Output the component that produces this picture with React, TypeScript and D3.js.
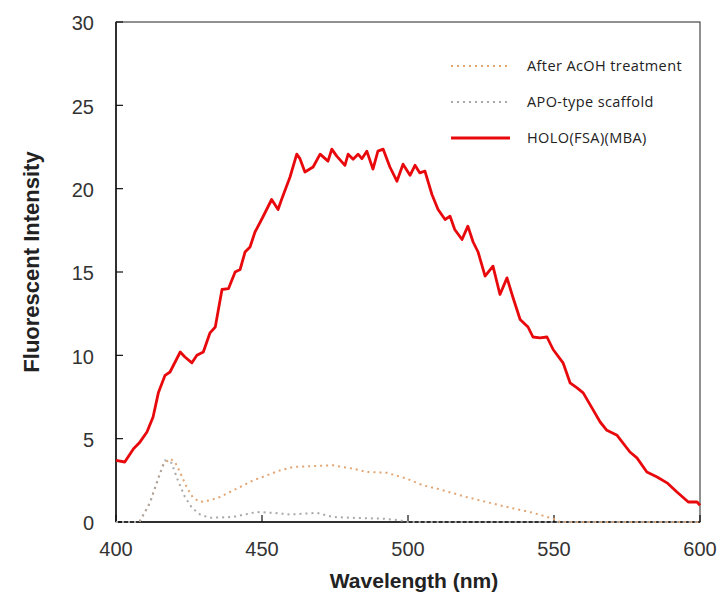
import React, { useEffect, useRef } from "react";
import * as d3 from "d3";

// HOLO(FSA)(MBA) – solid red
const holoWl = [400, 403, 406, 408, 410.6, 412.7, 414.5, 416.8, 418.5, 422, 423.6, 426, 427.7, 429.9, 432.2, 434, 436.3, 438.5, 440.8, 442.5, 444.2, 445.9, 447.6, 450.3, 453.3, 455.5, 456.7, 459.6, 461.9, 463, 464.7, 467.5, 469.9, 472.6, 473.9, 475.6, 478.4, 479.5, 481.2, 482.9, 484.2, 485.9, 488, 489.7, 491.5, 493.8, 496.2, 498.3, 500.7, 502.4, 504, 505.8, 508.2, 510.3, 512.7, 514.4, 516, 518.5, 520.5, 522.3, 524, 526.4, 529.1, 531.5, 533.9, 535.9, 538.4, 541.1, 542.8, 545.2, 547.6, 549.7, 553.1, 555.5, 557.9, 560, 563, 565.8, 568.1, 571.6, 576, 578.4, 581.8, 585.3, 588.7, 592.1, 596, 599, 600];
const holoVal = [3.7, 3.6, 4.4, 4.75, 5.4, 6.3, 7.75, 8.8, 9.0, 10.2, 9.9, 9.55, 10.0, 10.2, 11.35, 11.7, 13.95, 14.0, 15.0, 15.15, 16.2, 16.5, 17.4, 18.3, 19.35, 18.75, 19.35, 20.7, 22.07, 21.8, 21.0, 21.3, 22.07, 21.65, 22.37, 21.95, 21.4, 22.07, 21.77, 22.07, 21.8, 22.25, 21.17, 22.25, 22.37, 21.3, 20.45, 21.47, 20.8, 21.4, 20.95, 21.05, 19.65, 18.75, 18.15, 18.35, 17.55, 16.95, 17.75, 16.8, 16.2, 14.75, 15.35, 13.65, 14.65, 13.5, 12.15, 11.7, 11.1, 11.05, 11.1, 10.35, 9.55, 8.35, 8.05, 7.75, 6.85, 6.0, 5.5, 5.2, 4.2, 3.85, 3.0, 2.7, 2.35, 1.8, 1.2, 1.2, 1.0];

// After AcOH treatment – orange dotted
const acohWl = [400, 408, 411.6, 414, 416, 418.5, 420.2, 422, 424.3, 426.4, 428.8, 432.2, 435.6, 439, 442.5, 447, 451.7, 456.2, 460.6, 467.5, 474.3, 481.2, 485.9, 492.8, 499.6, 505.1, 510, 520, 531.5, 542.8, 549.7, 552, 600];
const acohVal = [0, 0, 1.15, 2.35, 3.4, 3.8, 3.6, 2.95, 2.05, 1.45, 1.2, 1.3, 1.5, 1.8, 2.1, 2.5, 2.8, 3.1, 3.3, 3.35, 3.4, 3.2, 3.0, 2.95, 2.6, 2.2, 2.0, 1.5, 1.0, 0.55, 0.2, 0, 0];

// APO-type scaffold – gray dotted
const apoWl = [400, 408, 411.6, 414, 416.8, 419, 421.2, 423.6, 426, 428.8, 432.2, 440, 448.2, 453.8, 459.6, 468.8, 474.3, 481.2, 491.5, 497.3, 500, 600];
const apoVal = [0, 0, 1.15, 2.4, 3.7, 3.55, 2.5, 1.5, 0.85, 0.45, 0.25, 0.3, 0.6, 0.55, 0.45, 0.55, 0.3, 0.25, 0.2, 0.1, 0, 0];

const xTicks = [400, 450, 500, 550, 600];
const yTicks = [0, 5, 10, 15, 20, 25, 30];
const legendLabels = ["After AcOH treatment", "APO-type scaffold", "HOLO(FSA)(MBA)"];

export default function App() {
  const ref = useRef<SVGSVGElement | null>(null);

  useEffect(() => {
    if (!ref.current) return;
    const svg = d3.select(ref.current);
    svg.selectAll("*").remove();

    const left = 116, right = 700, top = 22, bottom = 522;
    const x = d3.scaleLinear().domain([400, 600]).range([left, right]);
    const y = d3.scaleLinear().domain([0, 30]).range([bottom, top]);

    // frame
    svg.append("rect")
      .attr("x", left).attr("y", top)
      .attr("width", right - left).attr("height", bottom - top)
      .attr("fill", "white").attr("stroke", "#222").attr("stroke-width", 1);

    const line = d3.line<[number, number]>()
      .x(d => x(d[0])).y(d => y(d[1]))
      .curve(d3.curveLinear);

    const series = [
      { wl: acohWl, val: acohVal, color: "#e3a572", width: 2, dash: "2,4" },
      { wl: apoWl, val: apoVal, color: "#a8a8a8", width: 2, dash: "2,4" },
      { wl: holoWl, val: holoVal, color: "#e8090c", width: 2.8, dash: null as string | null },
    ];

    // axes (inward ticks)
    const axisLine = "#111";
    svg.append("line")
      .attr("x1", left).attr("x2", right).attr("y1", bottom).attr("y2", bottom)
      .attr("stroke", axisLine).attr("stroke-width", 1.5);
    svg.append("line")
      .attr("x1", left).attr("x2", left).attr("y1", top).attr("y2", bottom)
      .attr("stroke", axisLine).attr("stroke-width", 1.5);

    svg.selectAll(".yt").data(yTicks).enter().append("line")
      .attr("x1", left).attr("x2", left + 7)
      .attr("y1", d => y(d)).attr("y2", d => y(d))
      .attr("stroke", axisLine).attr("stroke-width", 1.2);
    svg.selectAll(".xt").data(xTicks).enter().append("line")
      .attr("x1", d => x(d)).attr("x2", d => x(d))
      .attr("y1", bottom).attr("y2", bottom - 7)
      .attr("stroke", axisLine).attr("stroke-width", 1.2);

    series.forEach(s => {
      const pts: [number, number][] = s.wl.map((w, i) => [w, s.val[i]]);
      const p = svg.append("path")
        .attr("d", line(pts) || "")
        .attr("fill", "none")
        .attr("stroke", s.color)
        .attr("stroke-width", s.width)
        .attr("stroke-linejoin", "round");
      if (s.dash) p.attr("stroke-dasharray", s.dash);
    });

    const font = "Liberation Sans, Arial, sans-serif";
    svg.selectAll(".yl").data(yTicks).enter().append("text")
      .attr("x", left - 22).attr("y", d => y(d) + 1)
      .attr("dy", "0.36em").attr("text-anchor", "end")
      .attr("font-family", font).attr("font-size", 20).attr("fill", "#333")
      .text(d => d);
    svg.selectAll(".xl").data(xTicks).enter().append("text")
      .attr("x", d => x(d)).attr("y", bottom + 27)
      .attr("dy", "0.36em").attr("text-anchor", "middle")
      .attr("font-family", font).attr("font-size", 20).attr("fill", "#333")
      .text(d => d);

    svg.append("text")
      .attr("x", 414).attr("y", 580)
      .attr("dy", "0.36em").attr("text-anchor", "middle")
      .attr("font-family", font).attr("font-size", 21).attr("font-weight", "bold").attr("fill", "#222")
      .text("Wavelength (nm)");
    svg.append("text")
      .attr("transform", `translate(31, 262) rotate(-90)`)
      .attr("dy", "0.36em").attr("text-anchor", "middle")
      .attr("font-family", font).attr("font-size", 22).attr("font-weight", "bold").attr("fill", "#222")
      .text("Fluorescent Intensity");

    // legend
    const legendY = [66, 102, 138];
    legendLabels.forEach((lab, i) => {
      const s = series[i];
      const l = svg.append("line")
        .attr("x1", 451).attr("x2", 510)
        .attr("y1", legendY[i]).attr("y2", legendY[i])
        .attr("stroke", s.color).attr("stroke-width", s.width);
      if (s.dash) l.attr("stroke-dasharray", s.dash);
      svg.append("text")
        .attr("x", 527).attr("y", legendY[i])
        .attr("dy", "0.36em")
        .attr("font-family", "Open Sans, sans-serif").attr("font-size", 14.5)
        .attr("letter-spacing", 0.4).attr("fill", "#222")
        .text(lab);
    });
  }, []);

  return (
    <svg ref={ref} width={722} height={597}
      style={{ position: "absolute", left: 0, top: 0, background: "white" }} />
  );
}
